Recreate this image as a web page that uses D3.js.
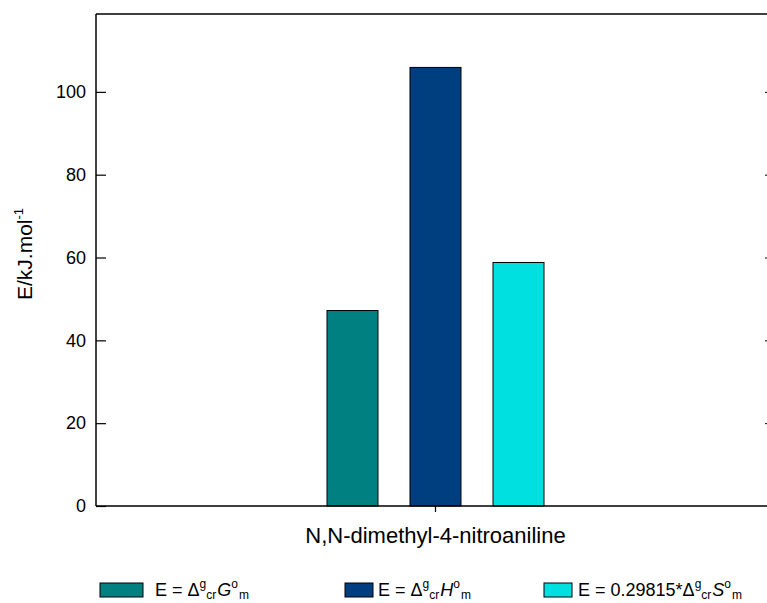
<!DOCTYPE html>
<html><head><meta charset="utf-8">
<script src="https://cdn.jsdelivr.net/npm/d3@7"></script>
<style>body{margin:0;background:#fff}svg{display:block}text{font-family:"Liberation Sans",Arial,sans-serif;fill:#000}</style>
</head><body><svg id="c" width="767" height="603"></svg>
<script>
const categories = ["N,N-dimethyl-4-nitroaniline"];
const seriesNames = ["G", "H", "S"];
const seriesValues = [47.2, 105.9, 58.8];
const seriesColors = ["#008080", "#003f7f", "#00e0e0"];
const yTicks = [0, 20, 40, 60, 80, 100];

const svg = d3.select("#c");
const m = {l: 96, t: 14, r: 775, b: 506};
const y = d3.scaleLinear().domain([0, 118.8]).range([m.b, m.t]);
const x = d3.scaleBand().domain(categories).range([m.l, m.r]);
const cx = x(categories[0]) + x.bandwidth()/2;
const xs = d3.scaleBand().domain(seriesNames).range([cx - 108.5, cx + 108.5]).paddingInner(0.3855).paddingOuter(0);

// bars
svg.append("g").selectAll("rect").data(seriesValues).join("rect")
  .attr("x", (d,i) => xs(seriesNames[i]))
  .attr("width", xs.bandwidth())
  .attr("y", d => y(d))
  .attr("height", d => y(0) - y(d))
  .attr("fill", (d,i) => seriesColors[i])
  .attr("stroke", "#000").attr("stroke-width", 1);

// frame
svg.append("line").attr("x1", m.l).attr("x2", m.r).attr("y1", m.t).attr("y2", m.t).attr("stroke", "#000").attr("stroke-width", 1.5);
svg.append("line").attr("x1", m.r).attr("x2", m.r).attr("y1", m.t).attr("y2", m.b).attr("stroke", "#000").attr("stroke-width", 1.5);

// left axis
const ya = svg.append("g").attr("transform", `translate(${m.l},0)`)
  .call(d3.axisLeft(y).tickValues(yTicks).tickSize(-10).tickPadding(10));
ya.select(".domain").attr("stroke-width", 1.5).attr("d", `M0,${m.t}V${m.b}`);
ya.selectAll(".tick line").attr("stroke-width", 1.2);
ya.selectAll("text").attr("font-size", 18).attr("font-family", "Liberation Sans, Arial, sans-serif");

// right axis ticks (inward)
const yr = svg.append("g").attr("transform", `translate(${m.r},0)`)
  .call(d3.axisRight(y).tickValues(yTicks.slice(1)).tickSize(-10).tickFormat(""));
yr.select(".domain").remove();

// bottom axis
const xa = svg.append("g").attr("transform", `translate(0,${m.b})`)
  .call(d3.axisBottom(x).tickSize(6).tickFormat(""));
xa.select(".domain").attr("stroke-width", 1.5).attr("d", `M${m.l},0H${m.r}`);
xa.selectAll(".tick line").attr("stroke-width", 1.2);

svg.append("text").attr("x", cx).attr("y", 543)
  .attr("text-anchor", "middle").attr("font-size", 22).text(categories[0]);

// y label
const yl = svg.append("text").attr("transform", "translate(32,254) rotate(-90)")
  .attr("text-anchor", "middle").attr("font-size", 21);
yl.append("tspan").text("E/kJ.mol");
yl.append("tspan").attr("font-size", 13).attr("dy", -9).text("-1");

// legend
const legend = [
  {sx: 100, sw: 43, tx: 155, pre: "E = ", sym: "G"},
  {sx: 345, sw: 28, tx: 378, pre: "E = ", sym: "H"},
  {sx: 544, sw: 28, tx: 578, pre: "E = 0.29815*", sym: "S"}
];
legend.forEach((L, i) => {
  svg.append("rect").attr("x", L.sx).attr("y", 583).attr("width", L.sw).attr("height", 14)
    .attr("fill", seriesColors[i]).attr("stroke", "#000").attr("stroke-width", 1);
  const t = svg.append("text").attr("x", L.tx).attr("y", 596).attr("font-size", 18);
  t.append("tspan").text(L.pre + "Δ");
  t.append("tspan").attr("font-size", 12).attr("dy", -8).text("g");
  t.append("tspan").attr("font-size", 12).attr("dy", 11).text("cr");
  t.append("tspan").attr("font-style", "italic").attr("dx", 1).attr("dy", -3).text(L.sym);
  t.append("tspan").attr("font-size", 12).attr("dy", -8).text("o");
  t.append("tspan").attr("font-size", 12).attr("dx", 1).attr("dy", 11).text("m");
});
</script></body></html>
